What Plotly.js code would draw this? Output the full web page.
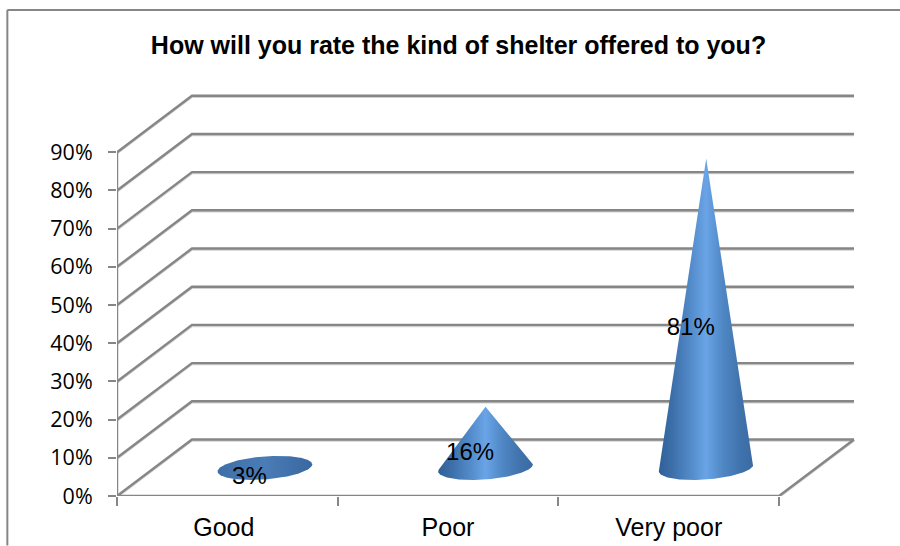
<!DOCTYPE html>
<html><head><meta charset="utf-8">
<script src="https://cdn.plot.ly/plotly-3.0.1.min.js"></script>
<style>html,body{margin:0;padding:0;background:#fff;overflow:hidden}</style>
</head><body><div id="chart" style="width:900px;height:546px"></div>
<script>
const categories = ['Good', 'Poor', 'Very poor'];
const values = [3, 16, 81];
const gridLevels = [0, 10, 20, 30, 40, 50, 60, 70, 80, 90];
const chartTitle = 'How will you rate the kind of shelter offered to you?';

// scale factors of the pseudo-3D box
const W = 900, H = 546, L = 116.7, T = 90, ZERO = 496.5, RIGHT = 860;
const PX = 220.77, PY = 3.824;
const DX = 75 / PX, DY = 56.6 / PY;
const RX = 47.5, RY = 11.5, TILT = 4.5 * Math.PI / 180;
const GRID = '#868686', GRID_SOFT = '#d2d2d2';
const N = categories.length;

function line(x, y, color, width) {
  return {type:'scatter', mode:'lines', x, y, line:{color, width, shape:'linear'}, hoverinfo:'skip', showlegend:false, cliponaxis:false};
}
const paths = [];
gridLevels.forEach(v => paths.push([[0, DX, N + DX], [v, v + DY, v + DY]]));
paths.push([[0, 0], [0, 90]]);
paths.push([[0, N, N + DX], [0, 0, DY]]);
const traces = [];
paths.forEach(p => traces.push(line(p[0], p[1].map(v => v - 0.3), GRID_SOFT, 2.2)));
paths.forEach(p => traces.push(line(p[0], p[1], GRID, 2.4)));

function conePath(cx, baseY, v) {
  const pts = [];
  const M = 240;
  for (let i = 0; i < M; i++) {
    const t = 2 * Math.PI * i / M;
    const ex = RX * Math.cos(t), ey = RY * Math.sin(t);
    // px offsets, y up
    pts.push([ex * Math.cos(TILT) - ey * Math.sin(TILT), ex * Math.sin(TILT) + ey * Math.cos(TILT)]);
  }
  const ay = v * PY;
  const c = Math.cos(TILT), s = Math.sin(TILT);
  const ax_ = ay * s, ay_ = ay * c;
  const inside = (ax_ * ax_) / (RX * RX) + (ay_ * ay_) / (RY * RY) <= 1.1;
  let poly;
  if (inside) {
    poly = pts.concat([pts[0]]);
  } else {
    let iR = 0, iL = 0, aR = -Infinity, aL = Infinity;
    pts.forEach((p, i) => {
      const a = Math.atan2(p[0], ay - p[1]);
      if (a > aR) { aR = a; iR = i; }
      if (a < aL) { aL = a; iL = i; }
    });
    poly = [[0, ay]];
    // from the right tangent, clockwise through the bottom of the ellipse to the left tangent
    let i = iR;
    while (true) {
      poly.push(pts[i]);
      if (i === iL) break;
      i = (i - 1 + M) % M;
    }
    poly.push([0, ay]);
  }
  return {x: poly.map(p => cx + p[0] / PX), y: poly.map(p => baseY + p[1] / PY)};
}

const baseValue = 7.35;
const coneScale = [[0,'#30609a'],[0.12,'#3a6ca6'],[0.32,'#5088c6'],[0.5,'#6aa4e6'],[0.68,'#4f87c4'],[0.88,'#3f71ab'],[1,'#3a6ba3']];
const flatScale = [[0,'#3f6fa8'],[0.5,'#4a7cb6'],[1,'#3a68a0']];
values.forEach((v, i) => {
  const cx = i + 0.5 + DX / 2;
  const p = conePath(cx, baseValue, v);
  traces.push({type:'scatter', mode:'lines', x:p.x, y:p.y, fill:'toself', line:{width:0, color:'rgba(0,0,0,0)'},
    fillgradient:{type:'horizontal', colorscale: v < 5 ? flatScale : coneScale},
    hoverinfo:'skip', showlegend:false, cliponaxis:false});
});
traces.push({type:'scatter', mode:'text',
  x: values.map((v, i) => i + 0.5 + 0.1),
  y: values.map(v => v / 2 + 3.1),
  text: values.map(v => v + '%'),
  textposition:'middle center',
  textfont:{family:'Liberation Sans, Arial, sans-serif', size:24, color:'#000'},
  hoverinfo:'skip', showlegend:false, cliponaxis:false});

const layout = {
  width:W, height:H, paper_bgcolor:'#fff', plot_bgcolor:'#fff', showlegend:false,
  margin:{l:L, r:W - RIGHT, t:T, b:H - ZERO, pad:0, autoexpand:false},
  title:{text:'<b>' + chartTitle + '</b>', x:458.5 / W, xanchor:'center', y:1 - 45 / H, yanchor:'middle',
    font:{family:'Liberation Sans, Arial, sans-serif', size:25, color:'#000'}},
  xaxis:{range:[0, (RIGHT - L) / PX], tickmode:'array',
    tickvals:categories.map((c, i) => i + 0.5 - (i === 0 ? 0.016 : 0)), ticktext:categories,
    showgrid:false, zeroline:false, showline:false, ticks:'', ticklabelstandoff:14,
    minor:{tickmode:'array', tickvals:[0, 1, 2, 3], ticks:'outside', ticklen:9, tickwidth:2, tickcolor:GRID, showgrid:false},
    tickfont:{family:'Liberation Sans, Arial, sans-serif', size:25, color:'#000'}, fixedrange:true},
  yaxis:{range:[0, (ZERO - T) / PY], tickmode:'array', tickvals:gridLevels, ticktext:gridLevels.map(v => v + '%'),
    showgrid:false, zeroline:false, showline:false, ticks:'outside', ticklen:8, tickwidth:2, tickcolor:GRID, ticklabelstandoff:11,
    tickfont:{family:'Open Sans, sans-serif', size:21.5, color:'#000'}, fixedrange:true},
  shapes:[
    {type:'line', xref:'paper', yref:'paper', x0:-(L - 7) / (RIGHT - L), x1:1 + (W - RIGHT) / (RIGHT - L), y0:(ZERO - 10) / (ZERO - T), y1:(ZERO - 10) / (ZERO - T), line:{color:GRID, width:2}},
    {type:'line', xref:'paper', yref:'paper', x0:-(L - 7) / (RIGHT - L), x1:-(L - 7) / (RIGHT - L), y0:(ZERO - 10) / (ZERO - T), y1:-(H - ZERO) / (ZERO - T), line:{color:GRID, width:2}}
  ]
};
Plotly.newPlot('chart', traces, layout, {displayModeBar:false, staticPlot:true});
</script></body></html>
